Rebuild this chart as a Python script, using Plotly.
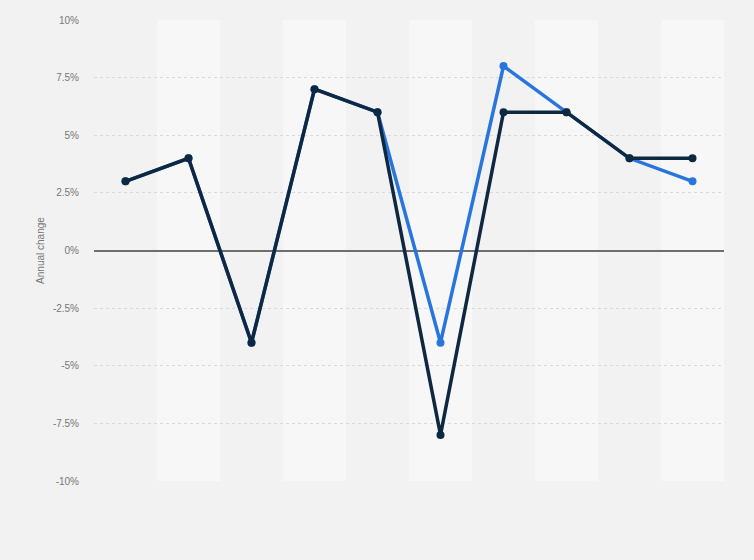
import plotly.graph_objects as go

categories = ["1", "2", "3", "4", "5", "6", "7", "8", "9", "10"]
series_dark = [3, 4, -4, 7, 6, -8, 6, 6, 4, 4]
series_blue = [3, 4, -4, 7, 6, -4, 8, 6, 4, 3]
tick_vals = [10, 7.5, 5, 2.5, 0, -2.5, -5, -7.5, -10]
tick_text = ["10%", "7.5%", "5%", "2.5%", "0%", "-2.5%", "-5%", "-7.5%", "-10%"]

fig = go.Figure()
fig.add_trace(go.Scatter(x=categories, y=series_blue, mode="lines+markers",
                         line=dict(color="#2876dd", width=3.5),
                         marker=dict(size=8, color="#2876dd"),
                         showlegend=False, hoverinfo="y"))
fig.add_trace(go.Scatter(x=categories, y=series_dark, mode="lines+markers",
                         line=dict(color="#0e2841", width=3.5),
                         marker=dict(size=8, color="#0e2841"),
                         showlegend=False, hoverinfo="y"))

shapes = []
for i, c in enumerate(categories):
    if i % 2 == 1:
        shapes.append(dict(type="rect", xref="x", yref="paper",
                           x0=i - 0.5, x1=i + 0.5, y0=0, y1=1,
                           fillcolor="#f7f7f7", line=dict(width=0), layer="below"))

fig.update_layout(
    width=754, height=560,
    margin=dict(l=94, r=30, t=20, b=79),
    paper_bgcolor="#f2f2f2",
    plot_bgcolor="#f2f2f2",
    shapes=shapes,
    font=dict(family="Liberation Sans, Arial, sans-serif", color="#777777", size=10),
    xaxis=dict(type="category", range=[-0.5, 9.5], showticklabels=False,
               showgrid=False, zeroline=False, showline=False, ticks=""),
    yaxis=dict(range=[-10, 10], tickvals=tick_vals, ticktext=tick_text,
               showgrid=True, gridcolor="#dadada", griddash="dot", gridwidth=1,
               zeroline=True, zerolinecolor="#6e6e6e", zerolinewidth=1.5,
               showline=False, ticks="", ticklabelstandoff=14,
               tickfont=dict(size=10, color="#777777"),
               title=dict(text="Annual change", font=dict(size=10, color="#777777"),
                          standoff=6)),
)

fig.write_html("out.html", config={"displayModeBar": False},
               post_script="document.body.style.margin='0';document.body.style.background='#f2f2f2';")
